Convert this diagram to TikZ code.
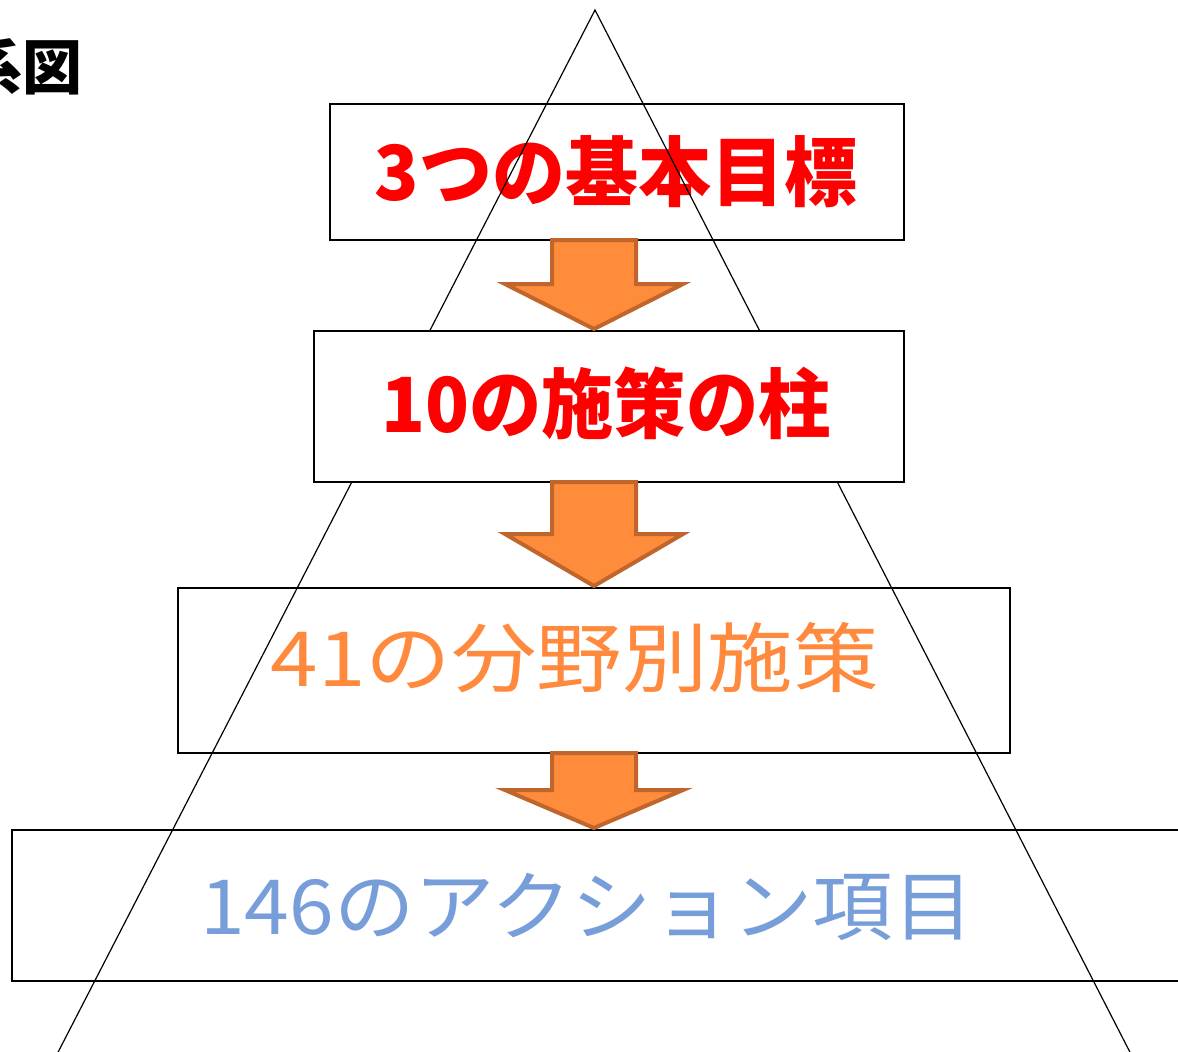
\documentclass[tikz,border=0pt]{standalone}
\usepackage{fontspec}
\usepackage{graphicx}
\newfontfamily\jp{Noto Sans CJK JP}
\usetikzlibrary{calc}
\definecolor{txtred}{HTML}{FF0000}
\definecolor{txtorange}{HTML}{FF8A3D}
\definecolor{txtblue}{HTML}{789EDA}
\definecolor{arrowfill}{HTML}{FF8C3A}
\definecolor{arrowedge}{HTML}{C0652C}
\begin{document}
\begin{tikzpicture}[x=0.75pt,y=-0.75pt,
  box/.style={draw=black, line width=1.1pt, inner sep=0pt, outer sep=0pt},
  lvltext/.style={inner sep=0pt, outer sep=0pt, font=\jp\fontsize{57pt}{60pt}\selectfont},
  tri/.style={draw=black, line width=0.9pt},
  blockarrow/.style={fill=arrowfill, draw=arrowedge, line width=3pt, line join=miter}]
\fill[white] (0,0) rectangle (1178,1052);
\useasboundingbox (0,0) rectangle (1178,1052);
% title (partly cut at the left edge, as in the reference)
\node[inner sep=0pt, anchor=east, font=\jp\bfseries\fontsize{45pt}{48pt}\selectfont] (title) at (83,67) {系図};
% level 1
\node[box, minimum width=430.5pt, minimum height=102pt] (b1) at (617,172) {};
\node[lvltext, text=txtred] (t1) at (616,172) {\resizebox{362pt}{\height}{\bfseries 3つの基本目標}};
% pyramid
\coordinate (apex) at (595,10);
\coordinate (lb) at (53,1062);
\coordinate (rb) at (1135,1062);
\draw[tri] (lb) -- (apex) -- (rb);
% level 2 (opaque)
\node[box, fill=white, minimum width=442.5pt, minimum height=113.25pt] (b2) at (609,406.5) {};
\node[lvltext, text=txtred] (t2) at (606,403) {\resizebox{337pt}{\height}{\bfseries 10の施策の柱}};
% level 3
\node[box, minimum width=624pt, minimum height=123.75pt] (b3) at (594,670.5) {};
\node[lvltext, text=txtorange] (t3) at (575,658) {\resizebox{456pt}{\height}{41の分野別施策}};
% level 4
\node[box, minimum width=883.5pt, minimum height=113.25pt] (b4) at (601,905.5) {};
\node[lvltext, text=txtblue] (t4) at (587,907) {\resizebox{580pt}{\height}{146のアクション項目}};
% block arrows
\coordinate (ax) at (594,0);
\foreach \a/\b/\s in {b1/b2/47, b2/b3/54, b3/b4/40}{
  \draw[blockarrow] ($(ax |- \a.south)+(-42,0)$) -- ($(ax |- \b.north)+(-42,-\s)$)
    -- ($(ax |- \b.north)+(-89,-\s)$) -- ($(ax |- \b.north)+(0,-2)$)
    -- ($(ax |- \b.north)+(89,-\s)$) -- ($(ax |- \b.north)+(42,-\s)$)
    -- ($(ax |- \a.south)+(42,0)$) -- cycle;
}
\end{tikzpicture}
\end{document}
